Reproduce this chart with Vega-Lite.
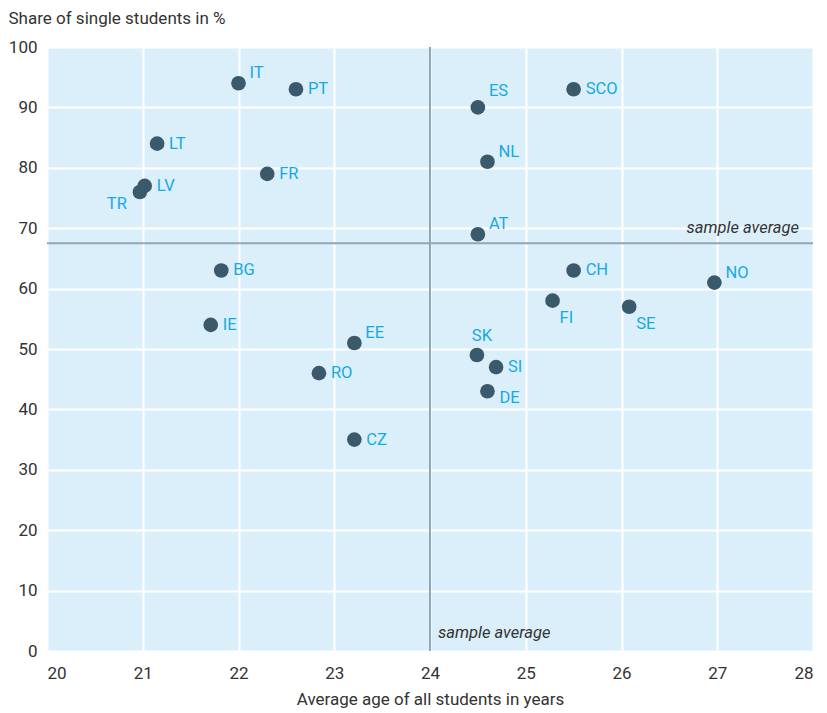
{
  "$schema": "https://vega.github.io/schema/vega-lite/v6.json",
  "width": 766,
  "height": 604,
  "autosize": "none",
  "padding": {"left": 47, "top": 47, "right": 14, "bottom": 62},
  "background": "white",
  "config": {
    "view": {"fill": "#daeffa", "stroke": null},
    "font": "Roboto",
    "axis": {
      "labelFont": "Roboto",
      "titleFont": "Roboto",
      "labelFontSize": 17,
      "titleFontSize": 17,
      "labelColor": "#333333",
      "titleColor": "#333333",
      "titleFontWeight": "normal",
      "gridColor": "white",
      "gridWidth": 2,
      "gridOpacity": 1,
      "domain": false,
      "ticks": false
    }
  },
  "datasets": {
    "countries": [
      {"country": "IT", "age": 22.0, "single": 94},
      {"country": "PT", "age": 22.6, "single": 93},
      {"country": "ES", "age": 24.5, "single": 90},
      {"country": "SCO", "age": 25.5, "single": 93},
      {"country": "LT", "age": 21.15, "single": 84},
      {"country": "NL", "age": 24.6, "single": 81},
      {"country": "FR", "age": 22.3, "single": 79},
      {"country": "LV", "age": 21.02, "single": 77},
      {"country": "TR", "age": 20.97, "single": 76},
      {"country": "AT", "age": 24.5, "single": 69},
      {"country": "BG", "age": 21.82, "single": 63},
      {"country": "CH", "age": 25.5, "single": 63},
      {"country": "NO", "age": 26.97, "single": 61},
      {"country": "FI", "age": 25.28, "single": 58},
      {"country": "SE", "age": 26.08, "single": 57},
      {"country": "IE", "age": 21.71, "single": 54},
      {"country": "EE", "age": 23.21, "single": 51},
      {"country": "SK", "age": 24.49, "single": 49},
      {"country": "SI", "age": 24.69, "single": 47},
      {"country": "RO", "age": 22.84, "single": 46},
      {"country": "DE", "age": 24.6, "single": 43},
      {"country": "CZ", "age": 23.21, "single": 35}
    ],
    "average": [
      {"avg_age": 24.0, "avg_single": 67.5, "label": "sample average", "axis_end": 28, "axis_start": 0}
    ]
  },
  "layer": [
    {
      "data": {"name": "average"},
      "mark": {"type": "rule", "color": "#92a7b4", "strokeWidth": 2},
      "encoding": {"x": {"field": "avg_age", "type": "quantitative"}}
    },
    {
      "data": {"name": "average"},
      "mark": {"type": "rule", "color": "#92a7b4", "strokeWidth": 2},
      "encoding": {"y": {"field": "avg_single", "type": "quantitative"}}
    },
    {
      "data": {"name": "average"},
      "mark": {"type": "text", "fontStyle": "italic", "fontSize": 16.5, "fill": "#333333", "align": "right", "baseline": "alphabetic", "dx": -14, "dy": -10},
      "encoding": {
        "x": {"field": "axis_end", "type": "quantitative"},
        "y": {"field": "avg_single", "type": "quantitative"},
        "text": {"field": "label"}
      }
    },
    {
      "data": {"name": "average"},
      "mark": {"type": "text", "fontStyle": "italic", "fontSize": 16.5, "fill": "#333333", "align": "left", "baseline": "alphabetic", "dx": 8, "dy": -13},
      "encoding": {
        "x": {"field": "avg_age", "type": "quantitative"},
        "y": {"field": "axis_start", "type": "quantitative"},
        "text": {"field": "label"}
      }
    },
    {
      "data": {"name": "countries"},
      "mark": {"type": "circle", "size": 215, "opacity": 1, "color": "#3a5a6c"},
      "encoding": {
        "x": {
          "field": "age", "type": "quantitative",
          "scale": {"domain": [20, 28], "nice": false, "zero": false},
          "axis": {
            "values": [20, 21, 22, 23, 24, 25, 26, 27, 28],
            "format": "d",
            "title": "Average age of all students in years",
            "labelPadding": 14,
            "titlePadding": 10
          }
        },
        "y": {
          "field": "single", "type": "quantitative",
          "scale": {"domain": [0, 100], "nice": false},
          "axis": {
            "values": [0, 10, 20, 30, 40, 50, 60, 70, 80, 90, 100],
            "format": "d",
            "title": "Share of single students in %",
            "labelPadding": 10,
            "titleAngle": 0,
            "titleAlign": "left",
            "titleBaseline": "alphabetic",
            "titleX": -39,
            "titleY": -24
          }
        }
      }
    },
    {
      "data": {"name": "countries"},
      "transform": [{"filter": {"field": "country", "oneOf": ["PT", "SCO", "LT", "FR", "LV", "BG", "CH", "IE", "SI", "RO", "CZ"]}}],
      "mark": {"type": "text", "fontSize": 16.5, "fill": "#16a9e6", "align": "left", "baseline": "middle", "dx": 12, "dy": 0},
      "encoding": {"x": {"field": "age", "type": "quantitative"}, "y": {"field": "single", "type": "quantitative"}, "text": {"field": "country"}}
    },
    {
      "data": {"name": "countries"},
      "transform": [{"filter": {"field": "country", "oneOf": ["IT", "NL", "AT", "NO", "EE"]}}],
      "mark": {"type": "text", "fontSize": 16.5, "fill": "#16a9e6", "align": "left", "baseline": "middle", "dx": 11, "dy": -10},
      "encoding": {"x": {"field": "age", "type": "quantitative"}, "y": {"field": "single", "type": "quantitative"}, "text": {"field": "country"}}
    },
    {
      "data": {"name": "countries"},
      "transform": [{"filter": {"field": "country", "oneOf": ["ES"]}}],
      "mark": {"type": "text", "fontSize": 16.5, "fill": "#16a9e6", "align": "left", "baseline": "middle", "dx": 11, "dy": -16},
      "encoding": {"x": {"field": "age", "type": "quantitative"}, "y": {"field": "single", "type": "quantitative"}, "text": {"field": "country"}}
    },
    {
      "data": {"name": "countries"},
      "transform": [{"filter": {"field": "country", "oneOf": ["SK"]}}],
      "mark": {"type": "text", "fontSize": 16.5, "fill": "#16a9e6", "align": "center", "baseline": "middle", "dx": 5, "dy": -19},
      "encoding": {"x": {"field": "age", "type": "quantitative"}, "y": {"field": "single", "type": "quantitative"}, "text": {"field": "country"}}
    },
    {
      "data": {"name": "countries"},
      "transform": [{"filter": {"field": "country", "oneOf": ["FI", "SE"]}}],
      "mark": {"type": "text", "fontSize": 16.5, "fill": "#16a9e6", "align": "left", "baseline": "middle", "dx": 7, "dy": 17},
      "encoding": {"x": {"field": "age", "type": "quantitative"}, "y": {"field": "single", "type": "quantitative"}, "text": {"field": "country"}}
    },
    {
      "data": {"name": "countries"},
      "transform": [{"filter": {"field": "country", "oneOf": ["DE"]}}],
      "mark": {"type": "text", "fontSize": 16.5, "fill": "#16a9e6", "align": "left", "baseline": "middle", "dx": 12, "dy": 7},
      "encoding": {"x": {"field": "age", "type": "quantitative"}, "y": {"field": "single", "type": "quantitative"}, "text": {"field": "country"}}
    },
    {
      "data": {"name": "countries"},
      "transform": [{"filter": {"field": "country", "oneOf": ["TR"]}}],
      "mark": {"type": "text", "fontSize": 16.5, "fill": "#16a9e6", "align": "right", "baseline": "middle", "dx": -13, "dy": 12},
      "encoding": {"x": {"field": "age", "type": "quantitative"}, "y": {"field": "single", "type": "quantitative"}, "text": {"field": "country"}}
    }
  ]
}
